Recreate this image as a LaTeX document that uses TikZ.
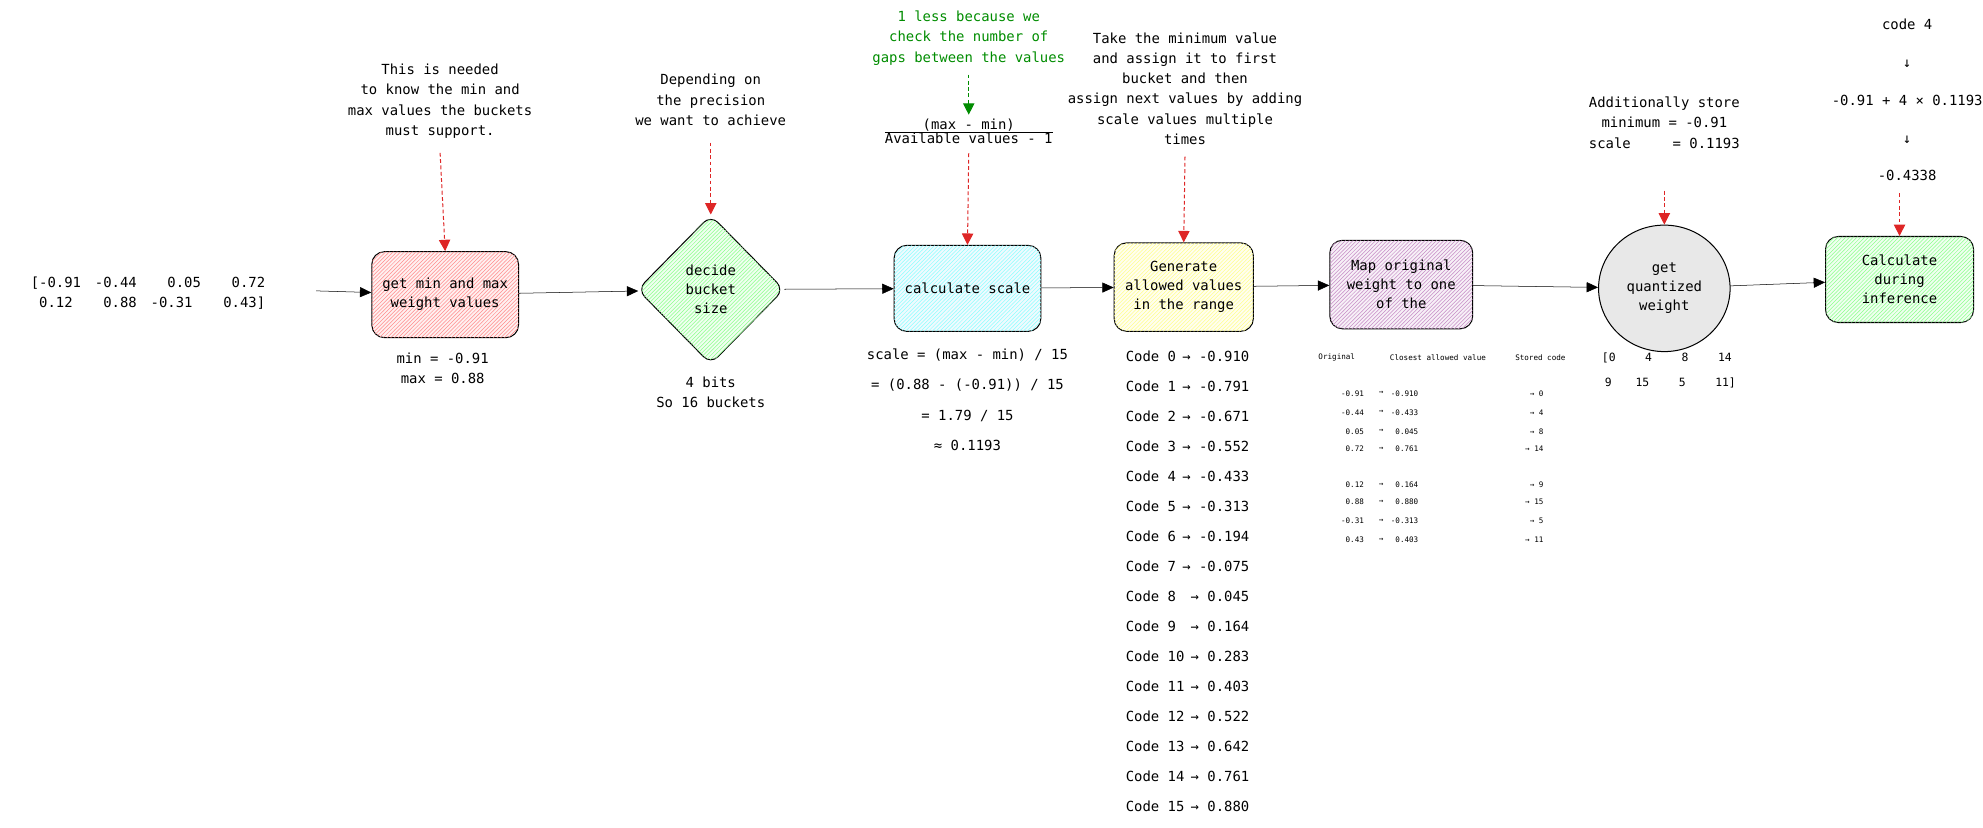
\documentclass[tikz,border=0pt]{standalone}
\usepackage{fontspec}
\setmainfont{DejaVu Sans Mono}
\usetikzlibrary{arrows.meta, positioning, shapes.geometric, patterns}

\tikzset{
  stage/.style={draw, thick, rounded corners=10pt, align=center, minimum width=116pt, minimum height=68pt, font=\fontsize{11}{15}\selectfont},
  hatch/.style={fill=#1!6, postaction={pattern=north east lines, pattern color=#1!45}},
  note/.style={align=center, font=\fontsize{11}{16}\selectfont},
  small/.style={font=\fontsize{6}{8}\selectfont},
  flow/.style={-{Triangle[length=9pt,width=8pt]}, thin},
  hint/.style={-{Triangle[length=9pt,width=9pt]}, densely dashed, thick, draw=red!85!black!85},
}

\begin{document}
\begin{tikzpicture}[x=1pt, y=-1pt]
    \useasboundingbox (0,0) rectangle (1568,654);

    % input weights
    \node (w) at (117,232) [note, align=left] {[-0.91\quad -0.44\quad\ \ 0.05\quad\ \ 0.72\\ \ 0.12\quad\ \ 0.88\quad -0.31\quad\ \ 0.43]};
    \coordinate (win) at (250,230);

    % stages
    \node (minmax) at (352,233) [stage, minimum width=116pt, hatch=red] {get min and max\\weight values};
    \node (decide) at (562,229) [draw, thick, diamond, aspect=0.95, minimum width=116pt, minimum height=118pt, rounded corners=8pt, align=center, hatch=green, font=\fontsize{11}{15}\selectfont] {decide\\bucket\\size};
    \node (scale) at (765,228) [stage, hatch=cyan] {calculate scale};
    \node (gen) at (936,227) [stage, minimum width=110pt, minimum height=70pt, hatch=yellow] {Generate\\allowed values\\in the range};
    \node (map) at (1108,225) [stage, minimum width=113pt, minimum height=70pt, hatch=violet] {Map original\\weight to one\\of the};
    \node (quant) at (1316,228) [draw, thick, ellipse, minimum width=104pt, minimum height=100pt, fill=gray!18, align=center, font=\fontsize{11}{15}\selectfont] {get\\quantized\\weight};
    \node (infer) at (1502,221) [stage, minimum width=117pt, hatch=green] {Calculate\\during\\inference};

    \draw [flow] (win) -- (minmax);
    \draw [flow] (minmax) -- (decide);
    \draw [flow] (decide) -- (scale);
    \draw [flow] (scale) -- (gen);
    \draw [flow] (gen) -- (map);
    \draw [flow] (map) -- (quant);
    \draw [flow] (quant) -- (infer);

    % notes above
    \node (n1) at (348,80) [note] {This is needed\\to know the min and\\max values the buckets\\must support.};
    \node (n2) at (562,79) [note] {Depending on\\the precision\\we want to achieve};
    \node (n3) at (766,30) [note, text=green!55!black] {1 less because we\\check the number of\\gaps between the values};
    \node (frac) at (766,104) [note] {$\frac{\mbox{(max - min)}}{\mbox{Available values - 1}}$};
    \node (n4) at (937,70) [note] {Take the minimum value\\and assign it to first\\bucket and then\\assign next values by adding\\scale values multiple\\times};
    \node (n5) at (1316,97) [note] {Additionally store\\minimum = -0.91\\scale\ \ \ \ \ = 0.1193};
    \node (n6) at (1508,79) [note, font=\fontsize{11}{30}\selectfont] {code 4\\↓\\-0.91 + 4 × 0.1193\\↓\\-0.4338};

    \path (n1.south) ++(0,8) coordinate (h1);
    \path (n2.south) ++(0,10) coordinate (h2);
    \path (n3.south) ++(0,4) coordinate (h3);
    \path (frac.south) ++(0,4) coordinate (h4);
    \path (n4.south) ++(0,6) coordinate (h5);
    \path (n5.south) ++(0,30) coordinate (h6);
    \path (n6.south) ++(-6,6) coordinate (h7);
    \draw [hint] (h1) -- (minmax.north);
    \draw [hint] (h2) -- (decide.north);
    \draw [hint, draw=green!55!black] (h3) -- (frac.north);
    \draw [hint] (h4) -- (scale.north);
    \draw [hint] (h5) -- (gen.north);
    \draw [hint] (h6) -- (quant.north);
    \draw [hint] (h7) -- (h7 |- infer.north);

    % results below
    \node (mm) at (350,291) [note] {min = -0.91\\max = 0.88};
    \node (bits) at (562,310) [note] {4 bits\\So 16 buckets};
    \node (calc) at (765,316) [note, font=\fontsize{11}{24}\selectfont] {scale = (max - min) / 15\\= (0.88 - (-0.91)) / 15\\= 1.79 / 15\\≈ 0.1193};

    % allowed values
    \foreach \i/\v [count=\k from 0] in {0/-0.910, 1/-0.791, 2/-0.671, 3/-0.552, 4/-0.433, 5/-0.313, 6/-0.194, 7/-0.075, 8/0.045, 9/0.164, 10/0.283, 11/0.403, 12/0.522, 13/0.642, 14/0.761, 15/0.880} {
        \node (c\i) at (890,{282+23.7*\k}) [anchor=west, inner sep=0pt, font=\fontsize{11}{13}\selectfont] {Code \i};
        \node (v\i) at (988,{282+23.7*\k}) [anchor=east, inner sep=0pt, font=\fontsize{11}{13}\selectfont] {→ \v};
    }

    % mapping table
    \node (th1) at (1057,283) [small] {Original};
    \node (th2) at (1137,283) [small] {Closest allowed value};
    \node (th3) at (1218,283) [small] {Stored code};
    \foreach \o/\a/\c/\y in {-0.91/-0.910/0/311, -0.44/-0.433/4/326, 0.05/0.045/8/341, 0.72/0.761/14/355, 0.12/0.164/9/383, 0.88/0.880/15/397, -0.31/-0.313/5/412, 0.43/0.403/11/427} {
        \node at (1082,\y) [small, anchor=east] {\o};
        \node at (1092,\y) [small] {→};
        \node at (1125,\y) [small, anchor=east] {\a};
        \node at (1224,\y) [small, anchor=east] {→ \c};
    }

    % stored codes
    \node (codes) at (1318,293) [note, font=\fontsize{9}{20}\selectfont] {[0\hspace{2.6em}4\hspace{2.6em}8\hspace{2.6em}14\\ \ 9\hspace{2.1em}15\hspace{2.6em}5\hspace{2.6em}11]};
\end{tikzpicture}
\end{document}
